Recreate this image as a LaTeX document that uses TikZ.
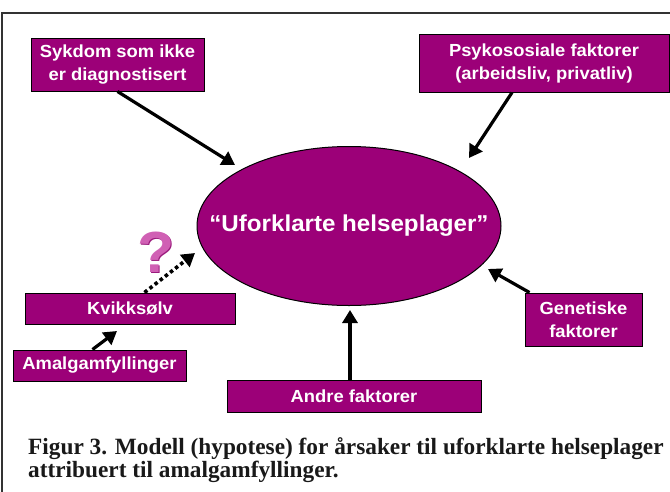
\documentclass[tikz,border=0pt]{standalone}
\usepackage{fontspec}
\setmainfont{Liberation Serif}
\setsansfont[FakeStretch=1.05]{Liberation Sans}
\usetikzlibrary{arrows.meta,shapes.geometric}
\definecolor{plum}{HTML}{9C0078}
\definecolor{qpink}{HTML}{D060B4}
\definecolor{qdark}{HTML}{9A1A7C}
\definecolor{framegray}{HTML}{333333}
\begin{document}
\begin{tikzpicture}[x=1pt,y=-1pt,
  box/.style={draw=black,line width=1pt,fill=plum,text=white,
    font=\sffamily\bfseries\fontsize{17.5}{23}\selectfont,align=center,inner sep=0pt},
  arr/.style={line width=3.2pt,-{Triangle[length=13pt,width=15pt]}},
  dotarr/.style={line width=3.6pt,dash pattern=on 3.5pt off 3pt,-{Triangle[length=13pt,width=15pt]}},
  captext/.style={font=\bfseries\fontsize{23.3}{23}\selectfont,text=black!90,anchor=base west,inner sep=0pt},
  qmark/.style={font=\sffamily\bfseries\fontsize{58}{58}\selectfont,inner sep=0pt}]
\useasboundingbox (0,0) rectangle (670,491);
\fill[white] (0,0) rectangle (670,491);
\draw[line width=2pt,framegray] (1.5,13) rectangle (690,510);
% central ellipse
\node[ellipse,draw=black,line width=1pt,fill=plum,minimum width=304pt,minimum height=159pt,inner sep=0pt] (main) at (349,226) {};
\node[text=white,font=\sffamily\bfseries\fontsize{23}{26}\selectfont,inner sep=0pt] (mtext) at (main.center) {“Uforklarte helseplager”};
% boxes
\node[box,minimum width=173pt,minimum height=53pt] (syk) at (117.5,64.5) {Sykdom som ikke\\er diagnostisert};
\node[box,minimum width=250pt,minimum height=58pt] (psy) at (544,63) {Psykososiale faktorer\\(arbeidsliv, privatliv)};
\node[box,minimum width=210pt,minimum height=31pt] (kv) at (130,308.5) {Kvikksølv};
\node[box,minimum width=173pt,minimum height=31pt] (am) at (99.5,365.5) {Amalgamfyllinger};
\node[box,minimum width=254pt,minimum height=32pt] (an) at (354,396) {Andre faktorer};
\node[box,minimum width=117pt,minimum height=53pt] (gen) at (583.5,319.5) {Genetiske\\faktorer};
% question mark
\node[qmark,text=qdark] (qs) at (157.5,253.5) {?};
\node[qmark,text=qpink] (q) at (156,252) {?};
% tip coordinates
\coordinate (tsyk) at (235,165);
\coordinate (tpsy) at (469,158);
\coordinate (tkv) at (195,253);
\coordinate (tam) at (117,331);
\coordinate (tan) at (350,310);
\coordinate (tgen) at (488,269);
% arrows
\draw[arr] (syk.south) -- (tsyk);
\draw[arr] ([xshift=-32pt]psy.south) -- (tpsy);
\draw[dotarr] ([xshift=120pt]kv.north west) -- (tkv);
\draw[arr] ([xshift=80pt]am.north west) -- (tam);
\draw[arr] ([xshift=-4pt]an.north) -- (tan);
\draw[arr] ([xshift=5pt]gen.north west) -- (tgen);
% caption
\node[captext] (c1) at (28,454) {Figur 3. Modell (hypotese) for årsaker til uforklarte helseplager};
\node[captext] (c2) at (28,477) {attribuert til amalgamfyllinger.};
\end{tikzpicture}
\end{document}
